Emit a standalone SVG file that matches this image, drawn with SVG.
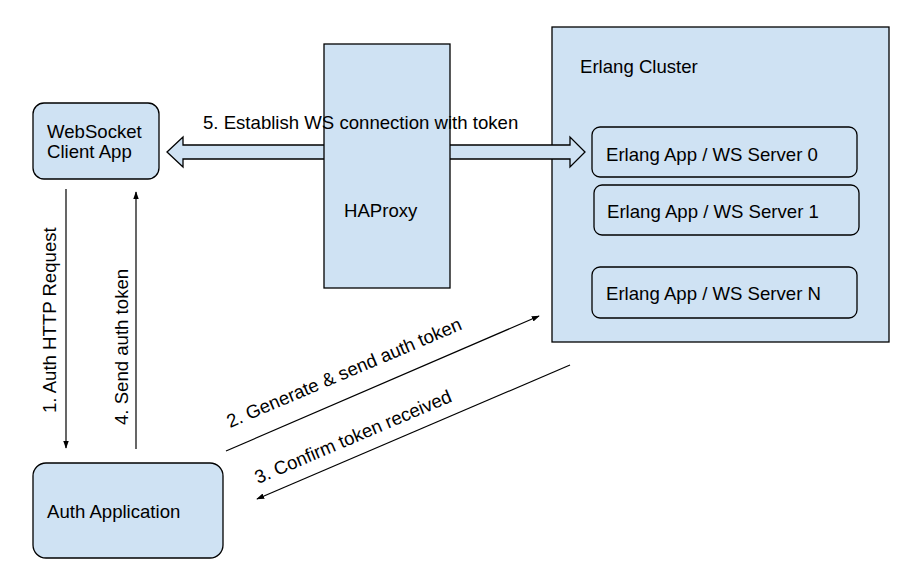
<svg xmlns="http://www.w3.org/2000/svg" width="918" height="584" viewBox="0 0 918 584">
<style>
.box{fill:#cfe2f3;stroke:#000;stroke-width:1.3}
.t{font-family:"Liberation Sans",Arial,sans-serif;font-size:18.6px;fill:#000}
.ln{stroke:#000;stroke-width:1.2;fill:none}
</style>
<defs>
<marker id="ah" viewBox="0 0 10 10" refX="9" refY="5" markerWidth="8" markerHeight="8" markerUnits="userSpaceOnUse" orient="auto">
<path d="M0,1.5 L10,5 L0,8.5 Z" fill="#000"/>
</marker>
</defs>
<rect width="918" height="584" fill="#fff"/>
<g id="cluster">
<rect class="box" x="552" y="27" width="337" height="315"/>
<text class="t" x="580" y="73">Erlang Cluster</text>
</g>
<g id="server0">
<rect class="box" x="592" y="127" width="265" height="50" rx="8"/>
<text class="t" x="606" y="160.5">Erlang App / WS Server 0</text>
</g>
<g id="server1">
<rect class="box" x="594" y="185" width="265" height="50" rx="8"/>
<text class="t" x="607" y="218">Erlang App / WS Server 1</text>
</g>
<g id="serverN">
<rect class="box" x="592" y="267" width="265" height="51" rx="8"/>
<text class="t" x="606" y="299.5">Erlang App / WS Server N</text>
</g>
<g id="wsclient">
<rect class="box" x="33" y="103" width="126" height="76" rx="11"/>
<text class="t" x="47" y="137.5">WebSocket</text>
<text class="t" x="47" y="157.5">Client App</text>
</g>
<g id="auth">
<rect class="box" x="33" y="463" width="190" height="95" rx="13"/>
<text class="t" x="47" y="518">Auth Application</text>
</g>
<g id="connectors">
<polygon class="box" points="167,152 183,137 183,145 570,145 570,137 585,152 570,167 570,159 183,159 183,167"/>
<line class="ln" x1="66" y1="189" x2="66" y2="448" marker-end="url(#ah)"/>
<line class="ln" x1="136" y1="449" x2="136" y2="192" marker-end="url(#ah)"/>
<line class="ln" x1="226" y1="451" x2="539" y2="316" marker-end="url(#ah)"/>
<line class="ln" x1="570" y1="365" x2="257" y2="499" marker-end="url(#ah)"/>
<text class="t" transform="translate(56,413) rotate(-90)">1. Auth HTTP Request</text>
<text class="t" transform="translate(128,425) rotate(-90)">4. Send auth token</text>
<text class="t" transform="translate(230,428) rotate(-23)">2. Generate &amp; send auth token</text>
<text class="t" transform="translate(258,484) rotate(-23)">3. Confirm token received</text>
</g>
<g id="haproxy">
<rect class="box" x="324" y="44" width="126" height="244"/>
<text class="t" x="344" y="217">HAProxy</text>
</g>
<text class="t" x="203" y="128.5">5. Establish WS connection with token</text>
</svg>
